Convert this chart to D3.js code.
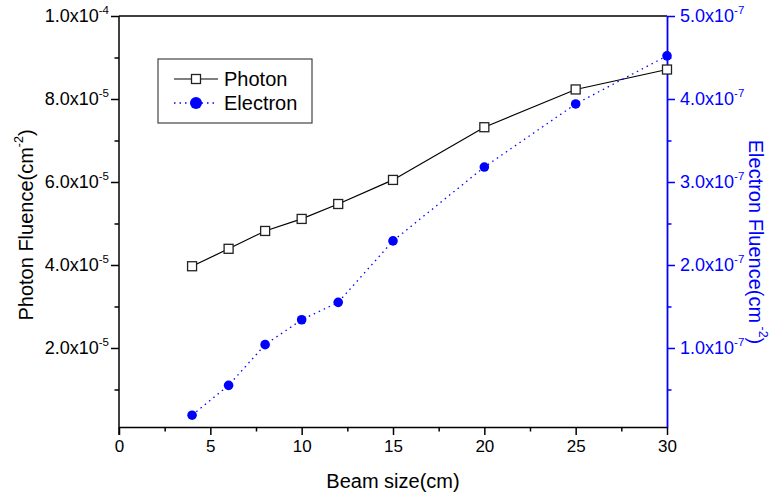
<!DOCTYPE html>
<html><head><meta charset="utf-8">
<script src="https://cdn.jsdelivr.net/npm/d3@7"></script>
<style>
body{margin:0;background:#fff}
text{font-family:"Liberation Sans",Arial,sans-serif}
</style></head>
<body><svg id="chart" width="775" height="500"></svg>
<script>
// ---- data ----
const beamSize = [4, 6, 8, 10, 12, 15, 20, 25, 30];
const photonFluence = [3.97e-5, 4.39e-5, 4.82e-5, 5.11e-5, 5.47e-5, 6.05e-5, 7.32e-5, 8.23e-5, 8.71e-5];
const electronFluence = [0.19e-7, 0.55e-7, 1.04e-7, 1.34e-7, 1.55e-7, 2.29e-7, 3.18e-7, 3.94e-7, 4.52e-7];
const xTicks = [0, 5, 10, 15, 20, 25, 30];
const xMinorTicks = [2.5, 7.5, 12.5, 17.5, 22.5, 27.5];
const leftTicks = [2e-5, 4e-5, 6e-5, 8e-5, 1e-4];
const leftTickMantissa = ["2.0", "4.0", "6.0", "8.0", "1.0"];
const leftTickExponent = ["-5", "-5", "-5", "-5", "-4"];
const leftMinorTicks = [1e-5, 3e-5, 5e-5, 7e-5, 9e-5];
const rightTicks = [1e-7, 2e-7, 3e-7, 4e-7, 5e-7];
const rightTickMantissa = ["1.0", "2.0", "3.0", "4.0", "5.0"];
const rightTickExponent = ["-7", "-7", "-7", "-7", "-7"];
const rightMinorTicks = [0.5e-7, 1.5e-7, 2.5e-7, 3.5e-7, 4.5e-7];
const seriesNames = ["Photon", "Electron"];

// ---- layout ----
const L = 119, R = 667, T = 16, B = 427;
const blue = "#0000ff";
const svg = d3.select("#chart");
const x = d3.scaleLinear().domain([0, 30]).range([L, R]);
const yL = d3.scaleLinear().domain([0.96e-6, 1e-4]).range([B, T]);
const yR = d3.scaleLinear().domain([0.48e-8, 5e-7]).range([B, T]);

const xTickFont = 17, yTickFont = 18, titleFont = 20;

// top frame line
svg.append("line").attr("x1", L).attr("x2", R).attr("y1", T).attr("y2", T)
  .attr("stroke", "#000").attr("stroke-width", 1.5);

function styleAxis(g, color) {
  g.select(".domain").attr("stroke", color).attr("stroke-width", 1.5);
  g.selectAll(".tick line").attr("stroke", color).attr("stroke-width", 1.5);
}

// bottom axis
const gx = svg.append("g").attr("transform", `translate(0,${B})`)
  .call(d3.axisBottom(x).tickValues(xTicks).tickSize(8).tickSizeOuter(0).tickFormat(d3.format("d")));
styleAxis(gx, "#000");
gx.selectAll(".tick text").attr("font-size", xTickFont).attr("fill", "#000").attr("dy", "0.85em")
  .style("font-family", '"Liberation Sans",Arial,sans-serif');
const gxm = svg.append("g").attr("transform", `translate(0,${B})`)
  .call(d3.axisBottom(x).tickValues(xMinorTicks).tickSize(4.5).tickFormat(""));
gxm.select(".domain").remove();
gxm.selectAll(".tick line").attr("stroke", "#000").attr("stroke-width", 1.5);

// left axis
const gl = svg.append("g").attr("transform", `translate(${L},0)`)
  .call(d3.axisLeft(yL).tickValues(leftTicks).tickSize(8).tickSizeOuter(0).tickFormat(""));
styleAxis(gl, "#000");
gl.select(".domain").attr("d", `M0,${B + 8}V${T}`);
const glm = svg.append("g").attr("transform", `translate(${L},0)`)
  .call(d3.axisLeft(yL).tickValues(leftMinorTicks).tickSize(4.5).tickFormat(""));
glm.select(".domain").remove();
glm.selectAll(".tick line").attr("stroke", "#000").attr("stroke-width", 1.5);
leftTicks.forEach((v, i) => {
  const t = svg.append("text").attr("x", L - 10).attr("y", yL(v)).attr("dy", "0.35em")
    .attr("text-anchor", "end").attr("font-size", yTickFont).attr("fill", "#000");
  t.append("tspan").text(leftTickMantissa[i] + "x10");
  t.append("tspan").attr("font-size", yTickFont * 0.64).attr("dy", "-0.75em").text(leftTickExponent[i]);
});

// right axis
const gr = svg.append("g").attr("transform", `translate(${R},0)`)
  .call(d3.axisRight(yR).tickValues(rightTicks).tickSize(8).tickSizeOuter(0).tickFormat(""));
styleAxis(gr, blue);
gr.select(".domain").attr("stroke-width", 1.8);
const grm = svg.append("g").attr("transform", `translate(${R},0)`)
  .call(d3.axisRight(yR).tickValues(rightMinorTicks).tickSize(4.5).tickFormat(""));
grm.select(".domain").remove();
grm.selectAll(".tick line").attr("stroke", blue).attr("stroke-width", 1.5);
rightTicks.forEach((v, i) => {
  const t = svg.append("text").attr("x", R + 13).attr("y", yR(v)).attr("dy", "0.35em")
    .attr("text-anchor", "start").attr("font-size", yTickFont).attr("fill", blue);
  t.append("tspan").text(rightTickMantissa[i] + "x10");
  t.append("tspan").attr("font-size", yTickFont * 0.64).attr("dy", "-0.75em").text(rightTickExponent[i]);
});

// axis titles
svg.append("text").attr("x", 393).attr("y", 488).attr("text-anchor", "middle")
  .attr("font-size", titleFont).attr("fill", "#000").text("Beam size(cm)");
const lt = svg.append("text").attr("transform", `translate(33,225) rotate(-90)`)
  .attr("text-anchor", "middle").attr("font-size", titleFont).attr("fill", "#000");
lt.append("tspan").text("Photon Fluence(cm");
lt.append("tspan").attr("font-size", titleFont * 0.62).attr("dy", "-0.8em").text("-2");
lt.append("tspan").attr("dy", "0.5em").text(")");
const rt = svg.append("text").attr("transform", `translate(749,242) rotate(90)`)
  .attr("text-anchor", "middle").attr("font-size", titleFont).attr("fill", blue);
rt.append("tspan").text("Electron Fluence(cm");
rt.append("tspan").attr("font-size", titleFont * 0.62).attr("dy", "-0.8em").text(" -2");
rt.append("tspan").attr("dy", "0.5em").text(")");

// series
const photonData = beamSize.map((b, i) => [b, photonFluence[i]]);
const electronData = beamSize.map((b, i) => [b, electronFluence[i]]);
svg.append("path").datum(photonData)
  .attr("d", d3.line().x(d => x(d[0])).y(d => yL(d[1])))
  .attr("fill", "none").attr("stroke", "#000").attr("stroke-width", 1.2);
svg.append("path").datum(electronData)
  .attr("d", d3.line().x(d => x(d[0])).y(d => yR(d[1])))
  .attr("fill", "none").attr("stroke", blue).attr("stroke-width", 1.3).attr("stroke-dasharray", "1.5,4");
const sq = 9;
svg.selectAll("rect.p").data(photonData).join("rect").attr("class", "p")
  .attr("x", d => x(d[0]) - sq / 2).attr("y", d => yL(d[1]) - sq / 2)
  .attr("width", sq).attr("height", sq)
  .attr("fill", "#fff").attr("stroke", "#222").attr("stroke-width", 1.3);
svg.selectAll("circle.e").data(electronData).join("circle").attr("class", "e")
  .attr("cx", d => x(d[0])).attr("cy", d => yR(d[1])).attr("r", 4.8).attr("fill", blue);

// legend
const lg = svg.append("g");
lg.append("rect").attr("x", 158).attr("y", 59).attr("width", 154).attr("height", 64)
  .attr("fill", "#fff").attr("stroke", "#444").attr("stroke-width", 1.2);
lg.append("line").attr("x1", 174).attr("x2", 218).attr("y1", 79).attr("y2", 79).attr("stroke", "#000").attr("stroke-width", 1.2);
lg.append("rect").attr("x", 196 - sq / 2).attr("y", 79 - sq / 2).attr("width", sq).attr("height", sq)
  .attr("fill", "#fff").attr("stroke", "#222").attr("stroke-width", 1.3);
lg.append("line").attr("x1", 174).attr("x2", 218).attr("y1", 103).attr("y2", 103).attr("stroke", blue)
  .attr("stroke-width", 1.3).attr("stroke-dasharray", "1.5,4");
lg.append("circle").attr("cx", 196).attr("cy", 103).attr("r", 6).attr("fill", blue);
lg.append("text").attr("x", 224).attr("y", 79).attr("dy", "0.36em").attr("font-size", titleFont).text(seriesNames[0]);
lg.append("text").attr("x", 224).attr("y", 103).attr("dy", "0.36em").attr("font-size", titleFont).text(seriesNames[1]);
</script></body></html>
